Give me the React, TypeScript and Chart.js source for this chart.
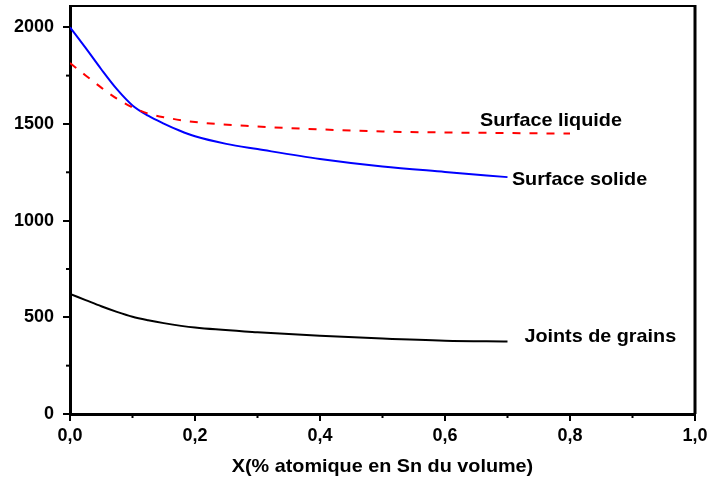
import React, { useEffect, useRef } from 'react';
import { Chart, registerables } from 'chart.js';

Chart.register(...registerables);

// Data
const xSolid = [0, 0.025, 0.05, 0.075, 0.1, 0.125, 0.15, 0.175, 0.2, 0.25, 0.3, 0.4, 0.5, 0.6, 0.7];
const ySolid = [2000, 1893, 1783, 1680, 1596, 1543, 1502, 1466, 1436, 1397, 1370, 1319, 1280, 1252, 1225];

const xLiquid = [0, 0.025, 0.05, 0.075, 0.1, 0.125, 0.15, 0.2, 0.3, 0.4, 0.5, 0.6, 0.7, 0.8];
const yLiquid = [1815, 1751, 1688, 1631, 1586, 1554, 1535, 1510, 1487, 1472, 1461, 1456, 1453, 1450];

const xGrain = [0, 0.025, 0.05, 0.075, 0.1, 0.125, 0.15, 0.2, 0.3, 0.4, 0.5, 0.6, 0.7];
const yGrain = [621, 589, 557, 528, 503, 485, 470, 447, 423, 405, 390, 379, 375];

const yTicks = [0, 500, 1000, 1500, 2000];
const yMinorTicks = [250, 750, 1250, 1750];
const xTicks = [0, 0.2, 0.4, 0.6, 0.8, 1.0];
const xMinorTicks = [0.1, 0.3, 0.5, 0.7, 0.9];

const curveLabels = [
  { text: 'Surface liquide', x: 0.656, y: 1514 },
  { text: 'Surface solide', x: 0.707, y: 1212 },
  { text: 'Joints de grains', x: 0.727, y: 400 },
];

const xTitle = 'X(% atomique en Sn du volume)';

const FONT = '"Liberation Sans", Arial, sans-serif';

const toPoints = (xs: number[], ys: number[]) => xs.map((x, i) => ({ x, y: ys[i] }));

const framePlugin = {
  id: 'frame',
  afterDraw(chart: any) {
    const { ctx, chartArea, scales } = chart;
    const { left, right, top, bottom } = chartArea;
    ctx.save();
    ctx.strokeStyle = '#000';
    // top & right border
    ctx.lineWidth = 2;
    ctx.beginPath();
    ctx.moveTo(left, top);
    ctx.lineTo(right, top);
    ctx.stroke();
    ctx.lineWidth = 3;
    ctx.beginPath();
    ctx.moveTo(right, top - 1);
    ctx.lineTo(right, bottom);
    ctx.stroke();
    // minor ticks
    ctx.lineWidth = 2;
    yMinorTicks.forEach((v) => {
      const py = scales.y.getPixelForValue(v);
      ctx.beginPath();
      ctx.moveTo(left - 4, py);
      ctx.lineTo(left, py);
      ctx.stroke();
    });
    xMinorTicks.forEach((v) => {
      const px = scales.x.getPixelForValue(v);
      ctx.beginPath();
      ctx.moveTo(px, bottom);
      ctx.lineTo(px, bottom + 4);
      ctx.stroke();
    });
    // curve labels
    ctx.fillStyle = '#000';
    ctx.font = `bold 18.5px ${FONT}`;
    ctx.textBaseline = 'middle';
    ctx.textAlign = 'left';
    curveLabels.forEach((l) => {
      ctx.save();
      ctx.translate(scales.x.getPixelForValue(l.x), scales.y.getPixelForValue(l.y));
      ctx.scale(1.07, 1);
      ctx.fillText(l.text, 0, 0);
      ctx.restore();
    });
    // x axis title
    ctx.save();
    ctx.textAlign = 'center';
    ctx.translate((left + right) / 2, 467);
    ctx.scale(1.07, 1);
    ctx.fillText(xTitle, 0, 0);
    ctx.restore();
    ctx.restore();
  },
};

export default function App() {
  const ref = useRef<HTMLCanvasElement>(null);

  useEffect(() => {
    if (!ref.current) return;
    const chart = new Chart(ref.current, {
      type: 'line',
      data: {
        datasets: [
          {
            label: 'Surface liquide',
            data: toPoints(xLiquid, yLiquid),
            borderColor: '#ff0000',
            borderWidth: 2,
            borderDash: [8, 9],
            pointRadius: 0,
            cubicInterpolationMode: 'monotone',
            fill: false,
          },
          {
            label: 'Surface solide',
            data: toPoints(xSolid, ySolid),
            borderColor: '#0000ff',
            borderWidth: 2,
            pointRadius: 0,
            cubicInterpolationMode: 'monotone',
            fill: false,
          },
          {
            label: 'Joints de grains',
            data: toPoints(xGrain, yGrain),
            borderColor: '#000000',
            borderWidth: 2,
            pointRadius: 0,
            cubicInterpolationMode: 'monotone',
            fill: false,
          },
        ],
      },
      options: {
        responsive: false,
        animation: false,
        layout: { padding: { top: 6, right: 15, left: 0, bottom: 0 } },
        plugins: { legend: { display: false }, tooltip: { enabled: false } },
        scales: {
          x: {
            type: 'linear',
            min: 0,
            max: 1,
            afterBuildTicks: (axis: any) => {
              axis.ticks = xTicks.map((v) => ({ value: v }));
            },
            afterFit: (axis: any) => {
              axis.height = 71;
              axis.paddingLeft = 0;
              axis.paddingRight = 0;
            },
            border: { display: true, color: '#000', width: 3 },
            grid: { drawOnChartArea: false, drawTicks: true, tickLength: 7, color: '#000', lineWidth: 2 },
            ticks: {
              color: '#000',
              font: { family: FONT, size: 18, weight: 'bold' },
              padding: 4,
              maxRotation: 0,
              callback: (v: any) => Number(v).toFixed(1).replace('.', ','),
            },
            title: { display: false },
          },
          y: {
            type: 'linear',
            min: 0,
            max: 2110,
            afterBuildTicks: (axis: any) => {
              axis.ticks = yTicks.map((v) => ({ value: v }));
            },
            afterFit: (axis: any) => {
              axis.width = 70;
              axis.paddingTop = 0;
              axis.paddingBottom = 0;
            },
            border: { display: true, color: '#000', width: 3 },
            grid: { drawOnChartArea: false, drawTicks: true, tickLength: 7, color: '#000', lineWidth: 2 },
            ticks: {
              color: '#000',
              font: { family: FONT, size: 18, weight: 'bold' },
              padding: 9,
              callback: (v: any) => String(v),
            },
          },
        },
      },
      plugins: [framePlugin],
    } as any);
    return () => chart.destroy();
  }, []);

  return (
    <div style={{ position: 'fixed', left: 0, top: 0, width: 710, height: 485, background: '#fff' }}>
      <canvas ref={ref} width={710} height={485} />
    </div>
  );
}
